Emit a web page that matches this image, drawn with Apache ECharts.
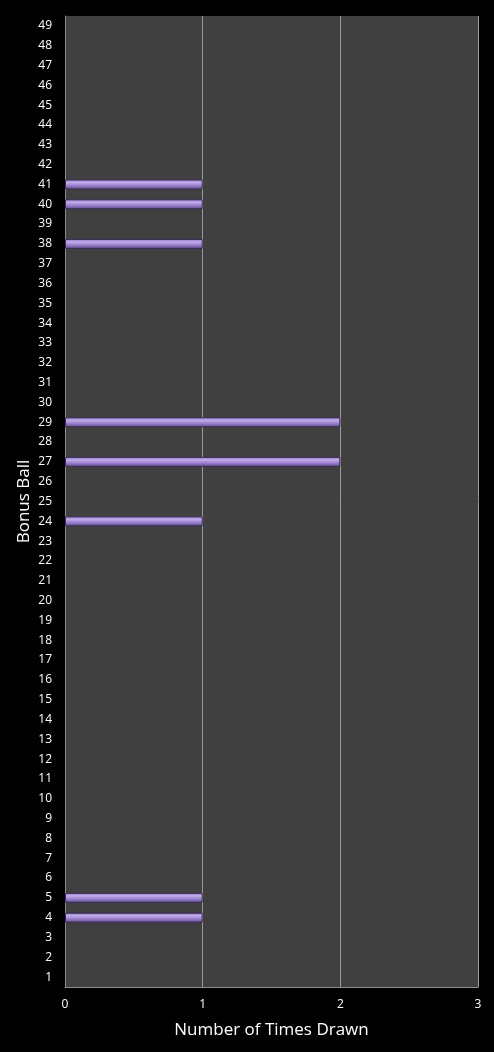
<!DOCTYPE html>
<html>
<head>
<meta charset="utf-8">
<script src="https://cdn.jsdelivr.net/npm/echarts@6/dist/echarts.min.js"></script>
<style>
  html, body { margin: 0; padding: 0; background: #000; }
  #chart { width: 494px; height: 1052px; }
</style>
</head>
<body>
<div id="chart"></div>
<script>
// bonus ball numbers 1..49
var balls = [];
for (var b = 1; b <= 49; b++) balls.push(String(b));

// times drawn, only the non-zero ones
var drawnBalls = ['4', '5', '24', '27', '29', '38', '40', '41'];
var drawnCounts = [1, 1, 1, 2, 2, 1, 1, 1];

var xTicks = [0, 1, 2, 3];

// zero counts are left empty so no bar border shows
var counts = balls.map(function(n) {
	var i = drawnBalls.indexOf(n);
	return i < 0 ? '-' : drawnCounts[i];
});

var chart = echarts.init(document.getElementById('chart'));
var fontName = 'Open Sans';

chart.setOption({
	backgroundColor: '#000',
	animation: false,
	grid: {
		left: 65,
		right: 16,
		top: 16,
		bottom: 65,
		show: true,
		backgroundColor: '#404040',
		borderWidth: 0
	},
	xAxis: {
		type: 'value',
		min: xTicks[0],
		max: xTicks[xTicks.length - 1],
		interval: 1,
		name: 'Number of Times Drawn',
		nameLocation: 'middle',
		nameGap: 35,
		nameMoveOverlap: false,
		nameTextStyle: { color: '#fff', fontSize: 17, fontFamily: fontName },
		axisLine: { show: true, lineStyle: { color: '#8c8c8c' } },
		axisTick: { show: false },
		axisLabel: { color: '#fff', fontSize: 12, margin: 12, fontFamily: fontName },
		splitLine: { show: true, lineStyle: { color: '#9a9a9a', width: 1 } }
	},
	yAxis: {
		type: 'category',
		data: balls,
		name: 'Bonus Ball',
		nameLocation: 'middle',
		nameGap: 32,
		nameMoveOverlap: false,
		nameTextStyle: { color: '#fff', fontSize: 17, fontFamily: fontName },
		axisLine: { show: true, lineStyle: { color: '#8c8c8c' } },
		axisTick: { show: false },
		axisLabel: { color: '#fff', fontSize: 12, margin: 13, fontFamily: fontName, interval: 0 },
		splitLine: { show: false }
	},
	series: [{
		type: 'bar',
		data: counts,
		barWidth: 10,
		itemStyle: {
			color: new echarts.graphic.LinearGradient(0, 0, 0, 1, [
				{ offset: 0, color: '#8a72bb' },
				{ offset: 0.3, color: '#c2adeb' },
				{ offset: 0.6, color: '#9c83d0' },
				{ offset: 1, color: '#5e4788' }
			]),
			borderColor: '#3a2c55',
			borderWidth: 1
		}
	}]
});
</script>
</body>
</html>
